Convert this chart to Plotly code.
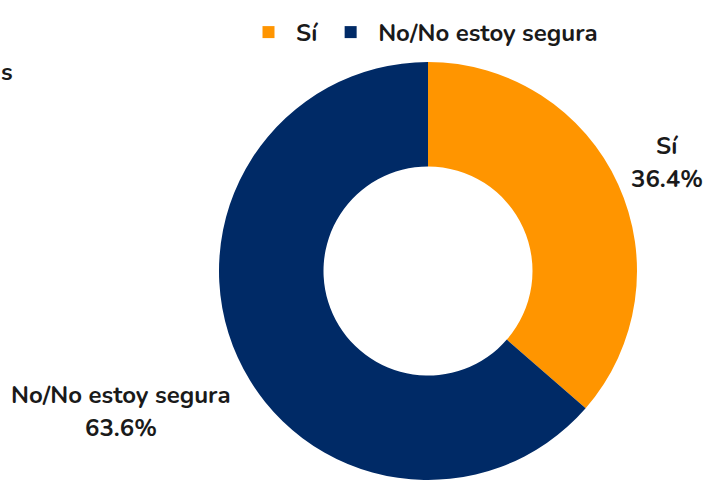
import math
import plotly.graph_objects as go

labels = ["Sí", "No/No estoy segura"]
values = [36.4, 63.6]
colors = ["#FF9500", "#002A66"]

W, H = 709, 480
cx, cy, r = 428, 271, 209
label_dist = [263, 337]   # distance of label centre from pie centre (px)
FONT = "Nunito, 'Open Sans', Lato, sans-serif"
TXT = "#1a1a1a"
FS = 24

fig = go.Figure(go.Pie(
    labels=labels,
    values=values,
    hole=0.5,
    sort=False,
    direction="clockwise",
    rotation=0,
    marker=dict(colors=colors, line=dict(width=0)),
    textinfo="none",
    hoverinfo="label+percent",
    domain=dict(x=[(cx - r) / W, (cx + r) / W], y=[0, min(1, (H - cy) * 2 / H)]),
    showlegend=True,
))

# outside labels placed along each slice's mid-angle
total = sum(values)
cum = 0
for lab, v, d in zip(labels, values, label_dist):
    mid = (cum + v / 2) / total * 2 * math.pi
    cum += v
    px = cx + d * math.sin(mid)
    py = cy - d * math.cos(mid)
    for txt, dy in ((lab, -16), (f"{v / total * 100:.1f}%", 17)):
        fig.add_annotation(
            text=txt, x=px / W, y=1 - (py + dy) / H, xref="paper", yref="paper",
            showarrow=False, xanchor="center", yanchor="middle",
            font=dict(size=FS, color=TXT, family=FONT, weight="bold"),
        )

fig.add_annotation(
    text="s", x=0, y=1 - 72 / H, xref="paper", yref="paper", showarrow=False,
    xanchor="left", yanchor="middle", xshift=-1,
    font=dict(size=FS, color=TXT, family=FONT, weight="bold"),
)

fig.update_layout(
    width=W, height=H,
    margin=dict(l=0, r=0, t=0, b=0),
    paper_bgcolor="white",
    plot_bgcolor="white",
    font=dict(family=FONT, color=TXT),
    legend=dict(
        orientation="h", x=422 / W, xanchor="center", y=1 - 10 / H, yanchor="top",
        font=dict(size=FS, color=TXT, weight="bold"),
        itemsizing="constant", itemwidth=45,
    ),
)

fig.write_html("out.html", config={"displayModeBar": False},
               post_script="document.body.style.margin='0';")
